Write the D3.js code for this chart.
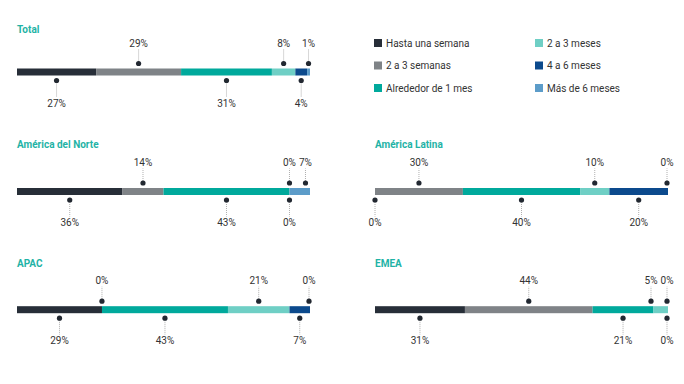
<!DOCTYPE html>
<html>
<head>
<meta charset="utf-8">
<script src="https://cdn.jsdelivr.net/npm/d3@7"></script>
<style>
  body { margin: 0; background: #fff; }
  text { font-family: Roboto, "Noto Sans", sans-serif; }
</style>
</head>
<body>
<svg id="chart"></svg>
<script>
const width = 684;
const height = 384;

// categories (legend order = stack order)
const categories = ["Hasta una semana", "2 a 3 semanas", "Alrededor de 1 mes", "2 a 3 meses", "4 a 6 meses", "Más de 6 meses"];
const colors = ["#272e38", "#7f8387", "#00a99c", "#6fcfc5", "#0c4a8d", "#5c9cc9"];

const regions = ["Total", "América del Norte", "América Latina", "APAC", "EMEA"];
const total = [27, 29, 31, 8, 4, 1];
const norteamerica = [36, 14, 43, 0, 0, 7];
const latinoamerica = [0, 30, 40, 10, 20, 0];
const apac = [29, 0, 43, 21, 7, 0];
const emea = [31, 44, 21, 5, 0, 0];
const values = [total, norteamerica, latinoamerica, apac, emea];

// panel layout
const panels = [
    { x0: 17, x1: 310, titleY: 33, cy: 72 },
    { x0: 17, x1: 310, titleY: 148, cy: 191.5 },
    { x0: 375, x1: 668, titleY: 148, cy: 191.5 },
    { x0: 17, x1: 310, titleY: 266.5, cy: 309.7 },
    { x0: 375, x1: 668, titleY: 266.5, cy: 309.7 }
];

const barH = 7;
const gap = 16;

const svg = d3.select("#chart")
    .attr("width", width)
    .attr("height", height);

regions.forEach((name, i) => {
    const p = panels[i];
    const vals = values[i];
    const sum = d3.sum(vals);
    const x = d3.scaleLinear().domain([0, sum]).range([p.x0, p.x1]);

    let acc = 0;
    const segs = vals.map((v, j) => {
        const s = { v: v, j: j, start: acc, end: acc + v };
        acc += v;
        s.mid = x((s.start + s.end) / 2);
        return s;
    });

    const g = svg.append("g");

    g.append("text")
        .attr("x", p.x0)
        .attr("y", p.titleY)
        .attr("fill", "#1fb3a6")
        .attr("font-size", 10)
        .attr("font-weight", 700)
        .text(name);

    g.selectAll(".seg")
        .data(segs)
        .enter().append("rect")
        .attr("x", d => x(d.start))
        .attr("y", p.cy - barH / 2)
        .attr("width", d => x(d.end) - x(d.start))
        .attr("height", barH)
        .attr("fill", d => colors[d.j]);

    // labels alternate: even index below, odd index above; nudge apart when crowded
    [0, 1].forEach(side => {
        const items = segs.filter(s => s.j % 2 === side);
        items.forEach(s => s.lx = s.mid);
        for (let k = 1; k < items.length; k++)
            items[k].lx = Math.max(items[k].lx, items[k - 1].lx + gap);
        items[items.length - 1].lx = Math.min(items[items.length - 1].lx, p.x1 - 1);
        for (let k = items.length - 2; k >= 0; k--)
            items[k].lx = Math.min(items[k].lx, items[k + 1].lx - gap);
    });

    segs.forEach(s => {
        const above = s.j % 2 === 1;
        const dotY = above ? p.cy - 8.5 : p.cy + 8.5;
        const lineEnd = above ? p.cy - 23 : p.cy + 25;
        g.append("line")
            .attr("x1", s.lx).attr("x2", s.lx)
            .attr("y1", dotY).attr("y2", lineEnd)
            .attr("stroke", "#9a9a9a")
            .attr("stroke-width", 0.8)
            .attr("stroke-dasharray", "1,1");
        g.append("circle")
            .attr("cx", s.lx)
            .attr("cy", dotY)
            .attr("r", 2.6)
            .attr("fill", "#222831");
        g.append("text")
            .attr("x", s.lx)
            .attr("y", above ? p.cy - 25.5 : p.cy + 34.5)
            .attr("text-anchor", "middle")
            .attr("font-size", 10)
            .attr("fill", "#333")
            .text(s.v + "%");
    });
});

// legend
const legend = svg.append("g")
    .selectAll("g")
    .data(categories)
    .enter().append("g")
    .attr("transform", (d, i) => `translate(${i < 3 ? 374 : 535},${[43, 65.5, 88][i % 3]})`);

legend.append("rect")
    .attr("x", 0).attr("y", -4)
    .attr("width", 8).attr("height", 8)
    .attr("fill", (d, i) => colors[i]);

legend.append("text")
    .attr("x", 12)
    .attr("y", 3.5)
    .attr("font-size", 10)
    .attr("fill", "#333")
    .text(d => d);
</script>
</body>
</html>
